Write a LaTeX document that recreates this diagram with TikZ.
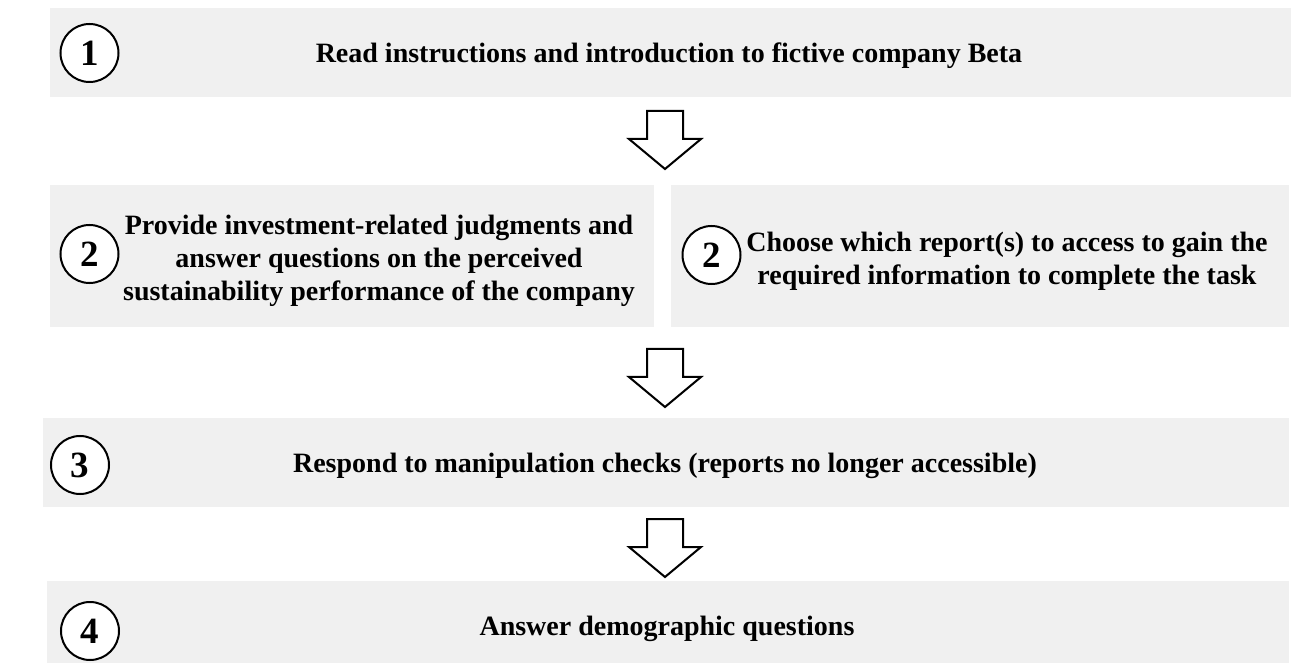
\documentclass[tikz,border=0pt]{standalone}
\usepackage{fontspec}
\setmainfont{Liberation Serif}
\usetikzlibrary{fit}
\definecolor{stepgray}{HTML}{F0F0F0}
\tikzset{
  stepbox/.style  = {fill=stepgray, inner sep=0pt, outer sep=0pt},
  stepnum/.style  = {draw, line width=1pt, circle, fill=white, inner sep=0pt,
                     minimum size=29pt, font=\fontsize{18.5}{20}\selectfont\bfseries},
  steptext/.style = {font=\fontsize{14}{16.65}\selectfont\bfseries, align=center,
                     inner sep=0pt},
  hollow/.style   = {draw, line width=1pt, fill=white, line join=miter},
}
\begin{document}
\begin{tikzpicture}[x=0.5pt,y=-0.5pt]
\useasboundingbox (0,0) rectangle (1291,663);
% step boxes
\node[stepbox, fit={(50,8) (1291,97)}] (s1) {};
\node[stepbox, fit={(50,185) (654,327)}] (s2a) {};
\node[stepbox, fit={(671,185) (1289,327)}] (s2b) {};
\node[stepbox, fit={(43,418) (1289,507)}] (s3) {};
\node[stepbox, fit={(47,581) (1289,663)}] (s4) {};
% step numbers
\node[stepnum] (n1) at (89.5,53) {1};
\node[stepnum] (n2a) at (89.5,254) {2};
\node[stepnum] (n2b) at (711.5,255) {2};
\node[stepnum] (n3) at (80,465) {3};
\node[stepnum] (n4) at (90,631) {4};
% step texts
\node[steptext, anchor=base] (t1) at (669,63)
  {Read instructions and introduction to fictive company Beta};
\node[steptext] (t2a) at (379,261)
  {Provide investment-related judgments and\\answer questions on the perceived\\sustainability performance of the company};
\node[steptext] (t2b) at (1007,261)
  {Choose which report(s) to access to gain the\\required information to complete the task};
\node[steptext, anchor=base] (t3) at (665,472.7)
  {Respond to manipulation checks (reports no longer accessible)};
\node[steptext, anchor=base] (t4) at (667,635) {Answer demographic questions};
% hollow arrows between the steps
\coordinate (ar1) at (665,111);
\coordinate (ar2) at (665,349);
\coordinate (ar3) at (665,519);
\foreach \a in {ar1,ar2,ar3}
  \draw[hollow] (\a) ++(-18,0) -- ++(0,28) -- ++(-18,0) -- ++(36,30)
    -- ++(36,-30) -- ++(-18,0) -- ++(0,-28) -- cycle;
\end{tikzpicture}
\end{document}
